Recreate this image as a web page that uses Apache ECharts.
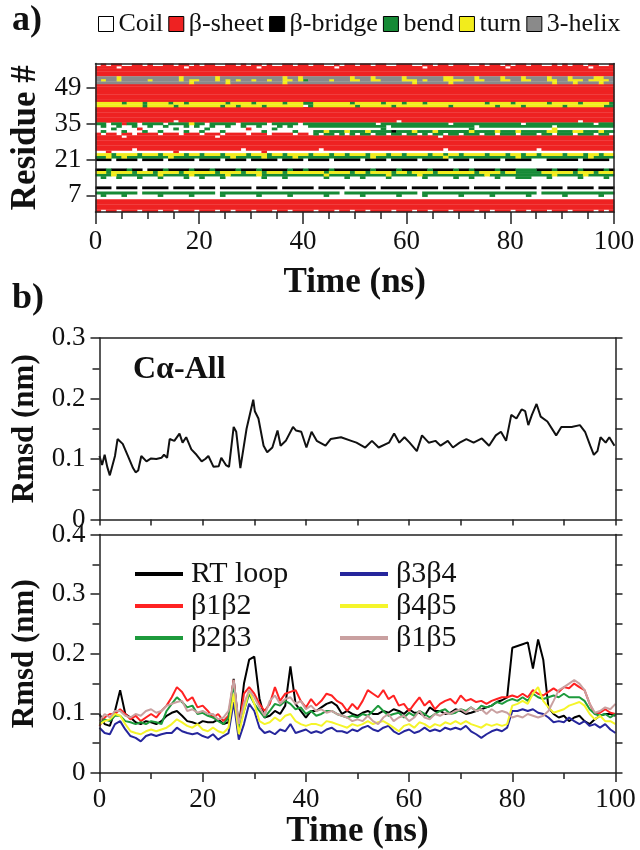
<!DOCTYPE html>
<html><head><meta charset="utf-8">
<script src="https://cdn.jsdelivr.net/npm/echarts@6/dist/echarts.min.js"></script>
<style>html,body{margin:0;padding:0;background:#fff}#c{width:640px;height:850px}</style>
</head><body><div id="c"></div>
<script>
// ---------------- DATA ----------------
const timeTickLabels = [0, 20, 40, 60, 80, 100];
const residueTicks = [7, 21, 35, 49];
const ssNames  = ['Coil', 'β-sheet', 'β-bridge', 'bend', 'turn', '3-helix'];
const ssCodes  = ['C', 'E', 'B', 'S', 'T', 'G'];
const ssColors = ['#ffffff', '#ee2222', '#000000', '#168a36', '#f2ec1c', '#8a8a8a'];

// DSSP frames: one column per ns (0..99), rows listed from residue 58 down to 1
const dsspFrameNs = 1;
const E10 = "EEEEEEEEEE EEEEEEEEEE EEEEEEEEEE EEEEEEEEEE EEEEEEEEEE EEEEEEEEEE EEEEEEEEEE EEEEEEEEEE EEEEEEEEEE EEEEEEEEEE";
const C10 = "CCCCCCCCCC CCCCCCCCCC CCCCCCCCCC CCCCCCCCCC CCCCCCCCCC CCCCCCCCCC CCCCCCCCCC CCCCCCCCCC CCCCCCCCCC CCCCCCCCCC";
const dsspResidues = [58,57,56,55,54,53,52,51,50,49,48,47,46,45,44,43,42,41,40,39,38,37,36,35,34,33,32,31,30,29,28,27,26,25,24,23,22,21,20,19,18,17,16,15,14,13,12,11,10,9,8,7,6,5,4,3,2,1];
const dsspStates = [
 "CECEECCEEC ECCEECEECE CEECCEECEC EECECCEECE ECEECCECEE CEECEECCEE ECCEECEECE EECCECEECE CEECEECCEC ECEECEECCE", //58
 "EEEECEEEEE EEEEEEECEE EEEEEEEEEE ECEEEEEEEE EEEEEECEEE EEEEEEEEEE EEECEEEEEE EEEEEEEEEC EEEEEEEEEE EEEEECEEEE", //57
 E10, E10, E10, //56-54
 "GGGGTGGGGG GGGGGGTGGG GGGTGGGGGG GGGGGGTGGT GGGGGGGGGT GGGTGGGGGT GGGGGGGTTG GGGTGGGGTG GGTGGGGTGG GTGGGGTTGG", //53
 "GTGGTGGGGG TGGGGGTGTT GGGTGTGTGG TGGTGGTTGT SGGGGTGGGT TGGTTGGGGT TTGTGGGTTT TGGTTGGGTT GGTTGGGTTG GTTTGTTTTG", //52
 "GGGGGGGGGG GGGGGGGGTG GGGGGTGGGG GGGGGGTGGG GGGGGGGGGG GGGGGGGGGG GTGGGGGGTG GGGGGGGGGG GGGGGGGGTG GGTGGGGTGG", //51
 E10, E10, E10, E10, E10, E10, E10, //50-44
 "TTTTTSTTTS TTTTSTTSTT TTTTTSTTTT STTTTTSTTT SSTTTTTTTS TTTTTSTTTS TTTSTTTTTT TTTTTSTTTT STTTTTTSTT TTTSTTTTTS", //43
 "TTTTTTTTTS TTTTTSTTTT TTTTSTTSTT TTSTTTTTTT CSTTTTTTTT STTTTTTSTT TTTTTTTTST TTTTTTTSTT TTSTTTTTTT STTTTTTTSS", //42
 E10, E10, E10, E10, E10, //41-37
 "EEEEEEEEEE EEEEECEEEE EEEEEEEEEE EEEEEEEEEE EEEEEEEEEE EEEEEEEECE EEEEEEEEEE EEEEEEEEEE EEEEEEEEEE EEECEEEEEE", //36
 "SSCSSESSCS SSSCSSSSTS SCSSSSSCSS SSSCSSSSSC SSSSSSSSSS SSSSCSSSSS SSSSSSSSCS SSSSSSSSSS SSCSSSSSSS SSSSSSCSSS", //35
 "CSCCSCCSCC SCCSCCCSCS CCSCCSCCSC CSCCCSCSCC CSSSSSSSSS SSSSSSCSSS SSSSSSSSSS SSSCSSSSSS SSSSSSSSCS SSSSSSSSSS", //34
 "CCCSCCCCEC CCCCCSCCCC CSCCCCCCCE CCCCSCCCCC CCCCCCCCCC CCCCCSCCCC CCCCCCCCCC CCSCCCCCCC CCCCCCCCTC CCCCCCCCCC", //33
 "CSCCCSCCCS CCSCCCCSCC SCCCSCCCCC CCSCCCCCSC CCSSTSSSTS SSTSSSSBSS STSSSTSSSS SSTSSSSTSS STSSSSSTTS SSTTSSSTSS", //32
 "ECEECEECEE EECEEECEEE CEEECEEEEC EEECEEEECE ECSCSSCSCS CSSCSSCSSC SSCSCSSCSS CSSSCSSCSS SCSSSCSSCS SSCSSSCSSC", //31
 "EEEEECEEEE EEEEEEEEEE EEECEEEEEE EEEEEEEEEE EEEEEEEEEE EEEEEEEEEE EEEEEECEEE EEEEEEEEEE EEEEEEEEEE EEEEEEEEEE", //30
 E10, E10, E10, E10, //29-26
 "EEEEEEECEE EEEEEEEEEE EEEEEEEECE EEEEEEEEEE EEECEEEEEE EEEEEEEEEE EEEEEEECEE EEEEEEEEEE EEEEECEEEE EEEEEEEEEE", //25
 "CCECCCCCCC CCCCCECCCC CCCCCCCCCC CCECCCCCCC CCCCCCCCCC CCCCCCCCCC CCCCCCCCCC CCCCCCCCCC CCCCCCCCCC CCCCCCCCCC", //24
 "TTTSTTTTST TTSTTTTSTT STTTSTTTTS TTTSTTSTTT TSTTTSTTST TTSTTTSTTS TTTTSTTSTT STTTTSTTTS TTSTTSTTTT STTTSTTSTT", //23
 "SSTSSTSSSS SSSSTSSSSS SSSSSSTSSS SSTSSSSSTS SSSSSSSSSS SSSTSSSSSS SSSSSSSTSS SSSSSSSSSS STSSSSSSSS SSSSSTSSSS", //22
 "BBBCBBBBCB BBBCBBBBBC BBBBCBBBBC BBBBBCBBBB CBBBBCBBBB BCBBBBCBBB BBCBBBBBCB BBCBBBBBCB BBBBCCCBBB BBBCBBBBBC", //21
 C10, C10, C10, //20-18
 "BBSBBBSBBC BBBSBBBBSB BBSBBBBSBB BSBBBBBSBB SBBBBSBBBB BBBSBBBBSB BBBBSBBBBS BBSBBBBSBB BSSSSBBBSB BBBSBBBBSB", //17
 "TTSTTTTSTT TSTTTTSTTT TTTSTTTTST TTSTTTSTTT TTTTSTTTTS TTSTTTTSTT STTTTSTTTT TTTSTTTTST TSSSSSTTTT TTSTTTSTTT", //16
 "SSSTSSSSSS SSTSSSSSTS SSSSSTSSSS STSSSSSSSS SSSSTSSSSS SSSSSSTSSS SSTSSSSSSS SSSSSTSSSS SSSSSSSSTS SSSSTSSSSS", //15
 "CSCCSCCCSC CCSCCCCSCC SCCCSCCCCC CCSCCCSCCC CCCCSCCCSC CSCCCCSCCC CCCSCCCCCS CCSCCCCSCC CSSSCCCSCC CCCSCCCCSC", //14
 C10, C10, C10, //13-11
 "BBBCBBBBCB BBBBCBBBBC BBBCBBBBBB CBBBBCBBBB BBCBBBBBCB BBBBCBBBBB CBBBBBCBBB BBCBBBBBCB BBBBBCBBBB CBBBBBCBBB", //10
 C10, //9
 "SSSSSSSSCS SSSSSSSSSS SSSCSSSSSS SSSSSSSSSS SSSSSSSCSS SSSSSSSSSS SSCSSSSSSS SSSSSSSSSS SSSSSCSSSS SSSSSSSSSS", //8
 "CSCCCSCCCC CCSCCCCCSC CCCCSCCCCC CSCCCCCSCC CCCCSCCCCC CSCCCCCCSC CCCSCCCCCC SCCCCCSCCC CCCSCCCCCC SCCCCCCSCC", //7
 C10, //6
 E10, E10, E10, E10, //5-2
 "ECEECEEECE EECEECEEEC EEECEECEEE CEEECEECEE EECEEECEEC EECEEEECEE ECEECEEECE EEECEECEEE CEECEEECEE ECEEEECECE"  //1
];

// Cα-All RMSD (nm)
const caTime = [0,0.5,1,1.5,2,3,3.5,4.5,5.5,6.5,7,7.5,8.1,9.1,10,11,12,12.5,13.1,13.6,14.5,15.5,16.1,16.8,17.8,18.8,19.8,20.5,21.1,22.1,23.1,23.6,24.5,25.1,26,26.5,27.3,28.5,29.8,30.1,30.8,31.8,32.5,33.5,34.5,35.1,36.1,37.5,38.1,39.1,40.1,41.1,42.1,43.8,44.8,46.8,48.8,49.8,51.5,52.8,54.1,56.1,57.1,58.1,59.1,60.1,61.5,62.5,63.8,65.1,66.1,67.5,68.5,69.8,71.1,72.5,74.1,75.5,76.8,77.8,78.8,79.8,80.8,81.8,82.5,83.1,83.8,84.7,85.5,86.8,88.5,89.5,91.5,93.1,94.1,95.1,95.8,96.5,97.1,98.1,98.8,99.8];
const caAll  = [0.105,0.090,0.107,0.087,0.073,0.105,0.133,0.125,0.105,0.085,0.078,0.081,0.105,0.096,0.101,0.100,0.102,0.107,0.102,0.133,0.130,0.142,0.127,0.136,0.116,0.107,0.096,0.100,0.105,0.087,0.088,0.102,0.090,0.087,0.153,0.145,0.085,0.150,0.198,0.179,0.167,0.122,0.111,0.119,0.147,0.122,0.130,0.153,0.147,0.145,0.119,0.145,0.130,0.122,0.133,0.136,0.130,0.127,0.119,0.130,0.119,0.127,0.142,0.127,0.136,0.127,0.113,0.139,0.127,0.130,0.122,0.130,0.119,0.127,0.133,0.127,0.134,0.122,0.139,0.145,0.130,0.173,0.167,0.182,0.179,0.156,0.173,0.191,0.170,0.162,0.139,0.153,0.153,0.156,0.145,0.122,0.107,0.113,0.136,0.127,0.136,0.122];

// Segment RMSD (nm), one value per ns
const segTime = [0,1,2,3,4,5,6,7,8,9,10,11,12,13,14,15,16,17,18,19,20,21,22,23,24,25,26,27,28,29,30,31,32,33,34,35,36,37,38,39,40,41,42,43,44,45,46,47,48,49,50,51,52,53,54,55,56,57,58,59,60,61,62,63,64,65,66,67,68,69,70,71,72,73,74,75,76,77,78,79,80,81,82,83,84,85,86,87,88,89,90,91,92,93,94,95,96,97,98,99,100];
const rtLoop = [0.099,0.082,0.079,0.104,0.139,0.099,0.093,0.085,0.082,0.087,0.085,0.082,0.087,0.096,0.101,0.104,0.096,0.087,0.085,0.082,0.087,0.085,0.085,0.090,0.082,0.085,0.158,0.076,0.150,0.190,0.195,0.125,0.093,0.096,0.104,0.099,0.113,0.179,0.116,0.104,0.093,0.104,0.104,0.110,0.116,0.119,0.113,0.099,0.104,0.099,0.096,0.101,0.104,0.099,0.099,0.104,0.101,0.107,0.104,0.099,0.107,0.101,0.101,0.096,0.110,0.104,0.104,0.099,0.101,0.107,0.104,0.099,0.101,0.104,0.107,0.110,0.113,0.119,0.122,0.127,0.210,0.213,0.216,0.219,0.175,0.224,0.190,0.110,0.099,0.093,0.096,0.087,0.093,0.096,0.087,0.082,0.090,0.096,0.099,0.099,0.096];
const b1b2 = [0.079,0.093,0.099,0.099,0.107,0.099,0.090,0.096,0.087,0.093,0.099,0.093,0.104,0.113,0.127,0.144,0.136,0.121,0.127,0.110,0.113,0.104,0.093,0.099,0.087,0.096,0.156,0.076,0.133,0.144,0.133,0.116,0.104,0.116,0.144,0.121,0.133,0.136,0.139,0.121,0.110,0.124,0.113,0.121,0.133,0.130,0.121,0.116,0.104,0.116,0.107,0.121,0.139,0.133,0.127,0.139,0.124,0.130,0.113,0.116,0.104,0.116,0.127,0.113,0.121,0.107,0.116,0.121,0.124,0.116,0.130,0.121,0.124,0.119,0.121,0.116,0.121,0.124,0.127,0.127,0.130,0.127,0.133,0.127,0.139,0.133,0.130,0.136,0.142,0.136,0.144,0.142,0.150,0.144,0.139,0.116,0.099,0.101,0.107,0.101,0.099];
const b2b3 = [0.082,0.090,0.087,0.096,0.096,0.087,0.085,0.082,0.085,0.082,0.087,0.085,0.082,0.104,0.116,0.127,0.119,0.110,0.113,0.099,0.101,0.096,0.093,0.087,0.082,0.093,0.150,0.076,0.104,0.133,0.116,0.104,0.093,0.104,0.116,0.113,0.121,0.116,0.107,0.110,0.099,0.104,0.096,0.099,0.104,0.104,0.099,0.096,0.093,0.096,0.093,0.099,0.096,0.104,0.113,0.104,0.096,0.099,0.101,0.093,0.101,0.096,0.104,0.099,0.093,0.099,0.104,0.107,0.099,0.101,0.107,0.104,0.110,0.104,0.113,0.110,0.113,0.119,0.116,0.121,0.124,0.121,0.127,0.121,0.133,0.127,0.124,0.127,0.130,0.127,0.133,0.127,0.127,0.127,0.121,0.107,0.099,0.096,0.099,0.093,0.099];
const b3b4 = [0.076,0.067,0.065,0.082,0.087,0.073,0.062,0.059,0.053,0.062,0.065,0.062,0.065,0.067,0.067,0.076,0.070,0.067,0.065,0.067,0.062,0.059,0.065,0.056,0.062,0.067,0.119,0.056,0.082,0.116,0.104,0.076,0.067,0.070,0.065,0.073,0.070,0.082,0.067,0.070,0.073,0.067,0.070,0.067,0.073,0.076,0.070,0.070,0.067,0.073,0.070,0.076,0.079,0.073,0.070,0.076,0.079,0.070,0.065,0.070,0.073,0.067,0.070,0.076,0.070,0.073,0.070,0.076,0.073,0.076,0.073,0.079,0.070,0.065,0.059,0.065,0.070,0.073,0.070,0.076,0.104,0.104,0.107,0.104,0.107,0.101,0.099,0.093,0.085,0.087,0.085,0.093,0.087,0.082,0.087,0.079,0.082,0.076,0.082,0.073,0.067];
const b4b5 = [0.082,0.087,0.090,0.099,0.096,0.082,0.070,0.067,0.065,0.070,0.073,0.070,0.073,0.076,0.082,0.090,0.085,0.079,0.076,0.082,0.073,0.070,0.076,0.070,0.067,0.076,0.133,0.065,0.104,0.139,0.116,0.087,0.082,0.085,0.093,0.087,0.096,0.099,0.087,0.082,0.079,0.082,0.082,0.079,0.087,0.085,0.082,0.079,0.076,0.082,0.079,0.082,0.087,0.082,0.085,0.087,0.082,0.076,0.070,0.079,0.082,0.076,0.085,0.082,0.076,0.082,0.079,0.085,0.082,0.087,0.082,0.087,0.082,0.079,0.076,0.082,0.079,0.082,0.079,0.082,0.113,0.116,0.121,0.116,0.133,0.144,0.121,0.110,0.101,0.104,0.107,0.113,0.116,0.119,0.113,0.099,0.090,0.096,0.087,0.087,0.082];
const b1b5 = [0.087,0.099,0.093,0.104,0.104,0.096,0.093,0.099,0.096,0.104,0.107,0.101,0.104,0.113,0.116,0.119,0.121,0.104,0.107,0.101,0.104,0.099,0.099,0.090,0.093,0.104,0.156,0.082,0.116,0.139,0.127,0.110,0.096,0.121,0.130,0.116,0.124,0.127,0.116,0.121,0.107,0.113,0.104,0.107,0.101,0.104,0.099,0.096,0.093,0.087,0.090,0.087,0.096,0.087,0.082,0.093,0.099,0.087,0.093,0.096,0.087,0.093,0.104,0.093,0.090,0.099,0.096,0.101,0.099,0.104,0.107,0.101,0.110,0.104,0.107,0.099,0.107,0.101,0.104,0.101,0.093,0.096,0.093,0.099,0.096,0.093,0.096,0.104,0.121,0.139,0.144,0.150,0.156,0.150,0.139,0.116,0.101,0.104,0.110,0.107,0.116];
const segNames  = ['RT loop', 'β1β2', 'β2β3', 'β3β4', 'β4β5', 'β1β5'];
const segValues = [rtLoop, b1b2, b2b3, b3b4, b4b5, b1b5];
const segColors = ['#000000', '#ff2222', '#1d9a3c', '#26269c', '#f5f52a', '#c9a0a0'];

// ---------------- CHART ----------------
const FONT = 'Liberation Serif';
const AX = '#222';
const chart = echarts.init(document.getElementById('c'), null, {renderer: 'canvas'});

function runsFor(code) {
  const out = [];
  dsspResidues.forEach((res, i) => {
    const s = dsspStates[i].replace(/ /g, '');
    let start = -1;
    for (let t = 0; t <= s.length; t++) {
      const on = t < s.length && s[t] === code;
      if (on && start < 0) start = t;
      if (!on && start >= 0) { out.push([start * dsspFrameNs, t * dsspFrameNs, res]); start = -1; }
    }
  });
  return out;
}
function cellRenderer(color) {
  return function (params, api) {
    const a = api.coord([api.value(0), api.value(2) + 0.5]);
    const b = api.coord([api.value(1), api.value(2) - 0.5]);
    return {type: 'rect', silent: true,
      shape: {x: a[0], y: a[1], width: b[0] - a[0] + 0.4, height: b[1] - a[1] + 0.3},
      style: {fill: color}};
  };
}

const lineStyleAx = {color: AX, width: 1.5};
const labelFont = {fontFamily: FONT, fontSize: 27, color: '#111'};
const titleFont = {fontFamily: FONT, fontSize: 35, fontWeight: 'bold', color: '#111'};

function frameAxis(grid, pos, min, max) {
  return {gridIndex: grid, type: 'value', position: pos, min: min, max: max, z: 10,
    axisLine: {show: true, onZero: false, lineStyle: lineStyleAx}, axisTick: {show: false},
    axisLabel: {show: false}, splitLine: {show: false}};
}

const xAxes = [
  // panel a
  {gridIndex: 0, type: 'value', min: 0, max: 100, interval: 20, position: 'bottom', z: 10,
   name: 'Time (ns)', nameLocation: 'middle', nameGap: 53, nameTextStyle: titleFont,
   axisLine: {show: true, onZero: false, lineStyle: lineStyleAx},
   axisTick: {show: true, length: 12, lineStyle: lineStyleAx},
   minorTick: {show: true, splitNumber: 4, length: 7, lineStyle: lineStyleAx},
   axisLabel: Object.assign({margin: 16}, labelFont), splitLine: {show: false}},
  frameAxis(0, 'top', 0, 100),
  // panel b top
  {gridIndex: 1, type: 'value', min: 0, max: 100, interval: 10, position: 'bottom', z: 10,
   axisLine: {show: true, onZero: false, lineStyle: lineStyleAx},
   axisTick: {show: true, length: 6, lineStyle: lineStyleAx},
   axisLabel: {show: false}, splitLine: {show: false}},
  frameAxis(1, 'top', 0, 100),
  // panel b bottom
  {gridIndex: 2, type: 'value', min: 0, max: 100, interval: 20, position: 'bottom', z: 10,
   name: 'Time (ns)', nameLocation: 'middle', nameGap: 41, nameTextStyle: titleFont,
   axisLine: {show: true, onZero: false, lineStyle: lineStyleAx},
   axisTick: {show: true, length: 9, lineStyle: lineStyleAx},
   minorTick: {show: true, splitNumber: 2, length: 6, lineStyle: lineStyleAx},
   axisLabel: Object.assign({margin: 13}, labelFont), splitLine: {show: false}},
  frameAxis(2, 'top', 0, 100)
];

function rmsdAxis(grid, max) {
  return {gridIndex: grid, type: 'value', min: 0, max: max, interval: 0.1, position: 'left', z: 10,
    name: 'Rmsd (nm)', nameLocation: 'middle', nameGap: 56, nameTextStyle: Object.assign({}, titleFont, {fontSize: 31}),
    axisLine: {show: true, onZero: false, lineStyle: lineStyleAx},
    axisTick: {show: true, length: 9, lineStyle: lineStyleAx},
    minorTick: {show: true, splitNumber: 2, length: 7, lineStyle: lineStyleAx},
    axisLabel: Object.assign({margin: 14, formatter: v => (v === 0 ? '0' : v.toFixed(1))}, labelFont),
    splitLine: {show: false}};
}
function rightAxis(grid, max) {
  return {gridIndex: grid, type: 'value', min: 0, max: max, interval: 0.05, position: 'right', z: 10,
    axisLine: {show: true, onZero: false, lineStyle: lineStyleAx},
    axisTick: {show: true, length: 7, lineStyle: lineStyleAx},
    axisLabel: {show: false}, splitLine: {show: false}};
}

const yAxes = [
  {gridIndex: 0, type: 'value', min: 0.5, max: 58.5, position: 'left', z: 10,
   name: 'Residue #', nameLocation: 'middle', nameGap: 51, nameTextStyle: titleFont,
   axisLine: {show: true, onZero: false, lineStyle: lineStyleAx},
   axisTick: {show: true, length: 9, customValues: residueTicks, lineStyle: lineStyleAx},
   axisLabel: Object.assign({margin: 14, customValues: residueTicks}, labelFont),
   splitLine: {show: false}},
  frameAxis(0, 'right', 0.5, 58.5),
  rmsdAxis(1, 0.3), rightAxis(1, 0.3),
  rmsdAxis(2, 0.4), rightAxis(2, 0.4)
];

const series = [];
ssCodes.forEach((code, i) => {
  series.push({type: 'custom', name: ssNames[i], xAxisIndex: 0, yAxisIndex: 0,
    renderItem: cellRenderer(ssColors[i]), data: runsFor(code),
    encode: {x: [0, 1], y: 2}, itemStyle: {color: ssColors[i]}, animation: false, silent: true});
});
series.push({type: 'line', name: 'Cα-All', xAxisIndex: 2, yAxisIndex: 2,
  data: caTime.map((t, i) => [t, caAll[i]]), showSymbol: false, symbol: 'none',
  lineStyle: {color: '#111', width: 2}, itemStyle: {color: '#111'}, animation: false});
segNames.forEach((n, k) => {
  series.push({type: 'line', name: n, xAxisIndex: 4, yAxisIndex: 4,
    data: segTime.map((t, i) => [t, segValues[k][i]]), showSymbol: false, symbol: 'none',
    lineStyle: {color: segColors[k], width: 2}, itemStyle: {color: segColors[k]}, animation: false});
});

const legendText = (size, pad) => ({fontFamily: FONT, fontSize: size, color: '#111', padding: pad});
const option = {
  backgroundColor: '#fff',
  animation: false,
  textStyle: {fontFamily: FONT},
  grid: [
    {left: 95.5, right: 26, top: 63.5, height: 148.5},
    {left: 99.5, right: 24.5, top: 338, height: 181.5},
    {left: 99.5, right: 24.5, top: 534.5, height: 238.5}
  ],
  xAxis: xAxes,
  yAxis: yAxes,
  legend: [
    {data: ssNames, left: 93, top: 6, icon: 'rect', itemWidth: 15, itemHeight: 15, itemGap: 5,
     selectedMode: false, itemStyle: {borderColor: '#000', borderWidth: 1},
     textStyle: legendText(26, 0)},
    {data: segNames.slice(0, 3), orient: 'vertical', left: 130, top: 554, icon: 'rect',
     itemWidth: 48, itemHeight: 4, itemGap: 2, selectedMode: false,
     textStyle: legendText(30, [0, 0, 0, 3])},
    {data: segNames.slice(3), orient: 'vertical', left: 335, top: 554, icon: 'rect',
     itemWidth: 48, itemHeight: 4, itemGap: 2, selectedMode: false,
     textStyle: legendText(30, [0, 0, 0, 3])}
  ],
  graphic: [
    {type: 'text', left: 12, top: 3, style: {text: 'a)', font: 'bold 36px ' + FONT, fill: '#111'}},
    {type: 'text', left: 12, top: 281, style: {text: 'b)', font: 'bold 36px ' + FONT, fill: '#111'}},
    {type: 'text', left: 133, top: 354, style: {text: 'Cα-All', font: 'bold 32px ' + FONT, fill: '#111'}}
  ],
  series: series
};
chart.setOption(option);
</script></body></html>
